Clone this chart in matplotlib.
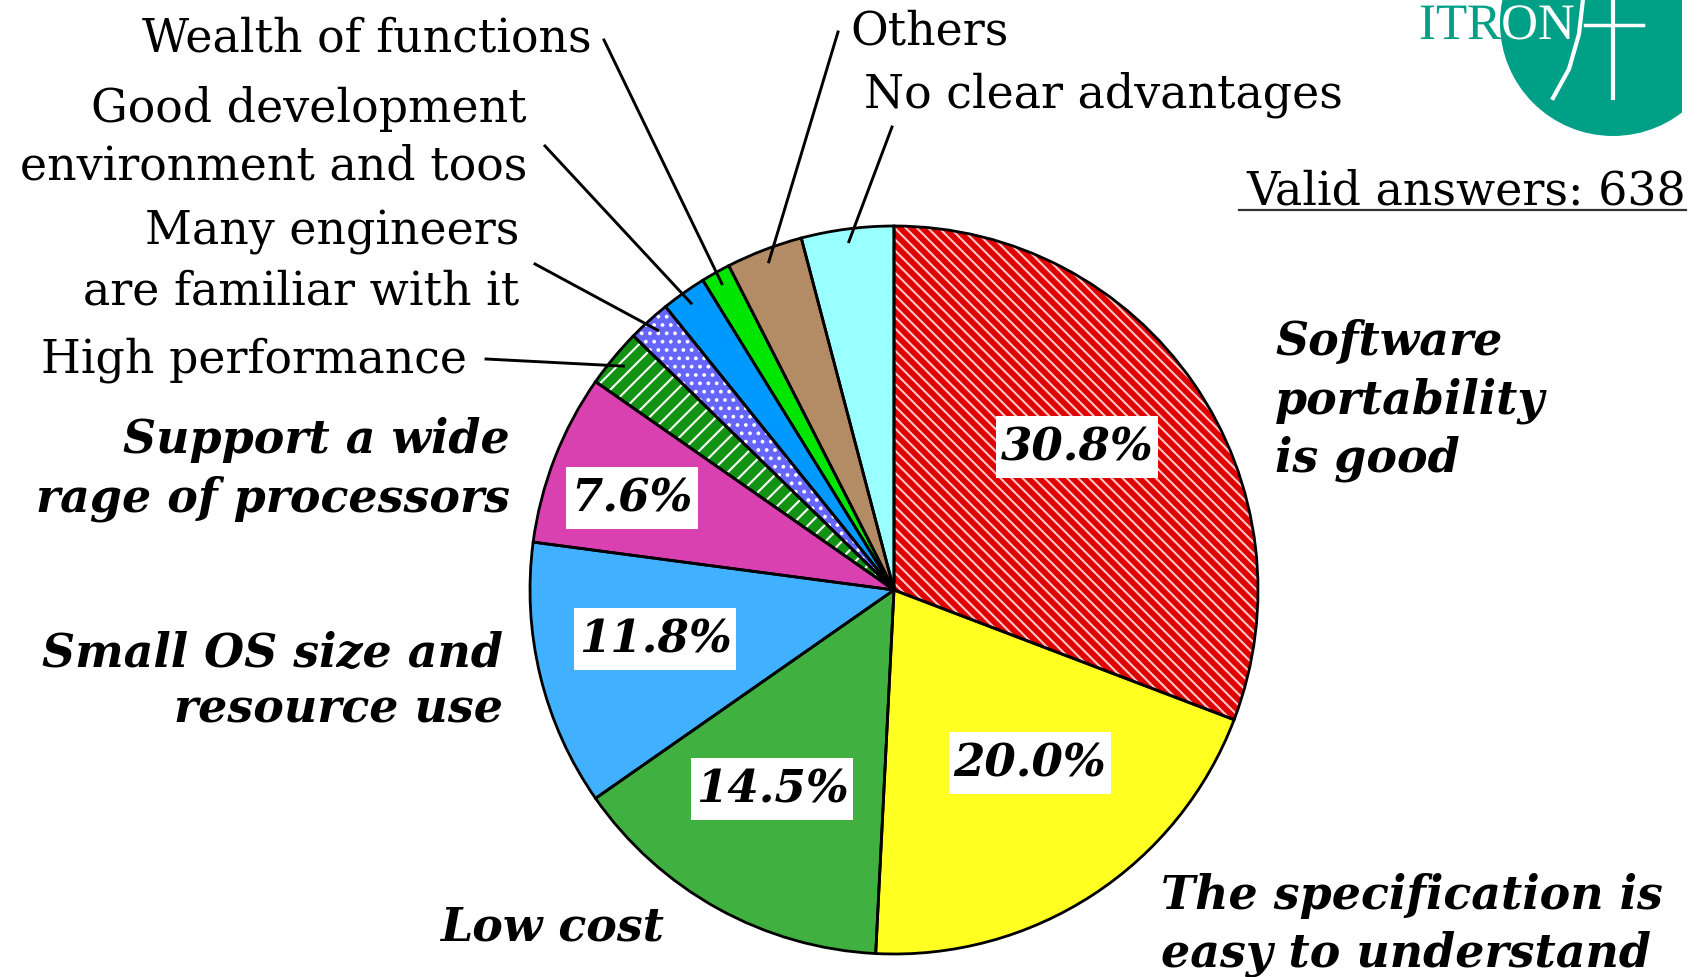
import numpy as np
import matplotlib.pyplot as plt
from matplotlib.patches import Circle, Rectangle, PathPatch
from matplotlib.textpath import TextPath
from matplotlib.font_manager import FontProperties

plt.rcParams['font.family'] = 'DejaVu Serif'
plt.rcParams['hatch.linewidth'] = 1.5

W, H = 1700, 978

# survey answers, clockwise from 12 o'clock
categories = ["Software\nportability\nis good",
              "The specification is\neasy to understand",
              "Low cost",
              "Small OS size and\nresource use",
              "Support a wide\nrage of processors",
              "High performance",
              "Many engineers\nare familiar with it",
              "Good development\nenvironment and toos",
              "Wealth of functions",
              "Others",
              "No clear advantages"]
shares = [30.8, 20.0, 14.5, 11.8, 7.6, 2.6, 1.9, 2.0, 1.3, 3.4, 4.1]
pct_labels = ["30.8%", "20.0%", "14.5%", "11.8%", "7.6%"]
valid_answers = 638

colors = ['#e00000', '#ffff22', '#40b040', '#40b0ff', '#d940b0',
          '#139313', '#6666ff', '#0099ff', '#00e600', '#b38b65', '#99ffff']
hatches = ['\\\\\\', None, None, None, None, '//', '..', None, None, None, None]
hatch_colors = ['#ffc8c8', None, None, None, None, 'white', 'white', None, None, None, None]


def iy(y):
    # image row -> data y
    return H - y


fig = plt.figure(figsize=(W / 100, H / 100), dpi=100)
ax = fig.add_axes([0, 0, 1, 1])

cx, cy, R = 894, iy(591), 364

wedges, _ = ax.pie(shares, colors=colors, startangle=90, counterclock=False,
                   center=(cx, cy), radius=R, frame=True,
                   wedgeprops=dict(linewidth=0))
for w, h, hc in zip(wedges, hatches, hatch_colors):
    if h:
        w.set_hatch(h)
        w.set_edgecolor(hc)
ax.pie(shares, colors=['none'] * len(shares), startangle=90, counterclock=False,
       center=(cx, cy), radius=R, frame=True,
       wedgeprops=dict(linewidth=2.0, edgecolor='black', fill=False))

ax.set_xlim(0, W)
ax.set_ylim(0, H)
ax.set_aspect('auto')
ax.axis('off')

# label layout: x, first baseline (image rows), alignment, line step
layout = [(1275, 355, 'left', 58.5),
          (1161, 909, 'left', 58),
          (440, 941, 'left', 0),
          (503, 667, 'right', 56),
          (510, 453, 'right', 59),
          (467, 373, 'right', 0),
          (519, 245, 'right', 60),
          (527, 122, 'right', 58),
          (592, 52, 'right', 0),
          (850, 45, 'left', 0),
          (864, 108, 'left', 0)]

for i, (name, (x, by, ha, step)) in enumerate(zip(categories, layout)):
    big = i < 5
    for k, line in enumerate(name.split('\n')):
        ax.text(x, iy(by + k * step), line, ha=ha, va='baseline',
                fontsize=33,
                fontweight='bold' if big else 'normal',
                fontstyle='italic' if big else 'normal')

# leader lines for the thin slices
leader_start = {5: (486, 360), 6: (535, 265), 7: (545, 147),
                8: (604, 41), 9: (838, 33), 10: (892, 128)}
for i, (sx, sy) in leader_start.items():
    w = wedges[i]
    mid = np.deg2rad((w.theta1 + w.theta2) / 2)
    ex = cx + 0.965 * R * np.cos(mid)
    ey = cy + 0.965 * R * np.sin(mid)
    ax.plot([sx, ex], [iy(sy), ey], color='black', lw=2.1, zorder=5)

# percentage boxes
pct_pos = [(1077, 448), (1030, 764), (772, 790), (655, 640), (632, 499)]
pct_texts = []
for txt, (px, py) in zip(pct_labels, pct_pos):
    pct_texts.append(ax.text(px, iy(py), txt, ha='center', va='center', fontsize=32.5,
                             fontweight='bold', fontstyle='italic', zorder=7))
fig.canvas.draw()
renderer = fig.canvas.get_renderer()
inv = ax.transData.inverted()
for t, (px, py) in zip(pct_texts, pct_pos):
    (x0, _), (x1, _) = inv.transform(t.get_window_extent(renderer).get_points())
    bw = (x1 - x0) + 10
    ax.add_patch(Rectangle((px - bw / 2, iy(py) - 31), bw, 62,
                           facecolor='white', edgecolor='none', zorder=6))

# valid answers note
ax.text(1686, iy(205), f"Valid answers: {valid_answers}", ha='right', va='baseline', fontsize=33)
ax.plot([1239, 1686], [iy(211), iy(211)], color='#333333', lw=1.6)

# ITRON logo
teal = '#00a087'
fp = FontProperties(family='Liberation Serif')
word = TextPath((1419, iy(40)), "ITRON", size=51, prop=fp)
ax.add_patch(PathPatch(word, facecolor=teal, edgecolor='none', zorder=3))
clip = Rectangle((1400, iy(140)), 282, 160, transform=ax.transData)
logo = Circle((1613, iy(24)), 113, facecolor=teal, edgecolor='none', zorder=4)
ax.add_patch(logo)
logo.set_clip_path(clip)
word_in = PathPatch(word, facecolor='white', edgecolor='none', zorder=5)
ax.add_patch(word_in)
word_in.set_clip_path(Circle((1613, iy(24)), 113, transform=ax.transData))
ax.plot([1613, 1613], [iy(0), iy(99)], color='white', lw=3, zorder=5)
ax.plot([1585, 1643], [iy(26), iy(26)], color='white', lw=2.5, zorder=5)
ax.plot([1583, 1579, 1569, 1553], [iy(0), iy(35), iy(70), iy(99)], color='white', lw=3, zorder=5)

fig.savefig('out.png', dpi=100, facecolor='white')
